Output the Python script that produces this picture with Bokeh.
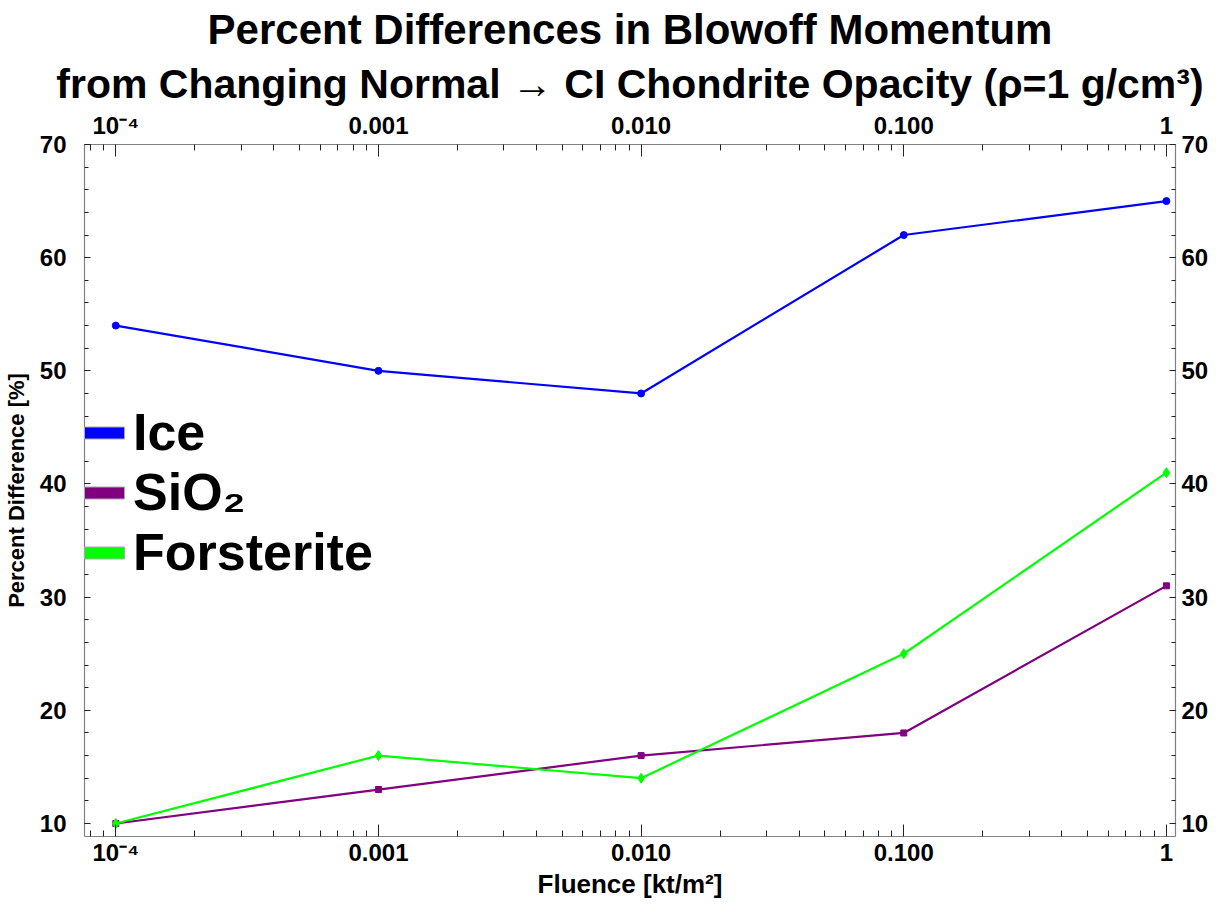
from bokeh.plotting import figure
from bokeh.models import (LogAxis, LinearAxis, FixedTicker, CustomJSTickFormatter,
                          Title, Legend, LegendItem, Range1d)
from bokeh.embed import file_html
from bokeh.resources import INLINE

# ---------------- data ----------------
fluence = [1e-4, 1e-3, 1e-2, 1e-1, 1.0]
ice = [54, 50, 48, 62, 65]
sio2 = [10, 13, 16, 18, 31]
forsterite = [10, 16, 14, 25, 41]

series_names = ["Ice", "SiO₂", "Forsterite"]
series_values = [ice, sio2, forsterite]
series_colors = ["#0000FF", "#800080", "#00FF00"]
series_markers = ["circle", "square", "diamond"]

x_ticks = [1e-4, 1e-3, 1e-2, 1e-1, 1.0]
x_tick_labels = ["10⁻⁴", "0.001", "0.010", "0.100", "1"]
y_ticks = [10, 20, 30, 40, 50, 60, 70]

title_line1 = "Percent Differences in Blowoff Momentum"
title_line2 = "from Changing Normal → CI Chondrite Opacity (ρ=1 g/cm³)"
x_label = "Fluence [kt/m²]"
y_label = "Percent Difference [%]"

# ---------------- styling ----------------
BOLD = "'Liberation Sans', Arial, sans-serif"

x_minor = [m * 10.0 ** d for d in range(-5, 1) for m in range(2, 10)]
y_minor = list(range(8, 72, 2))

p = figure(width=1215, height=901, x_axis_type="log", output_backend="svg",
           toolbar_location=None, title=None,
           x_range=Range1d(7.6e-5, 1.083), y_range=Range1d(8.85, 70),
           min_border_left=84, min_border_right=40,
           min_border_top=139, min_border_bottom=60)
p.grid.visible = False
p.outline_line_color = None
p.background_fill_color = "white"
p.border_fill_color = "white"

xfmt = CustomJSTickFormatter(args=dict(vals=x_ticks, labs=x_tick_labels), code="""
const i = vals.findIndex(v => Math.abs(Math.log10(v) - Math.log10(tick)) < 1e-6);
return i >= 0 ? labs[i] : "";
""")


def style(ax, standoff, maj, mnr):
    ax.axis_line_color = "#808080"
    ax.axis_line_width = 1.2
    ax.major_tick_line_color = "#222222"
    ax.minor_tick_line_color = "#222222"
    ax.major_tick_in = maj
    ax.major_tick_out = 0
    ax.minor_tick_in = mnr
    ax.minor_tick_out = 0
    ax.major_label_text_font = BOLD
    ax.major_label_text_font_size = "24px"
    ax.major_label_text_font_style = "bold"
    ax.major_label_text_color = "black"
    ax.major_label_standoff = standoff


bottom = p.xaxis[0]
bottom.ticker = FixedTicker(ticks=x_ticks, minor_ticks=x_minor)
bottom.formatter = xfmt
style(bottom, 2, 12, 6)
bottom.axis_label = x_label
bottom.axis_label_text_font = BOLD
bottom.axis_label_text_font_size = "26px"
bottom.axis_label_text_font_style = "bold"
bottom.axis_label_text_color = "black"
bottom.axis_label_standoff = 0

left = p.yaxis[0]
left.ticker = FixedTicker(ticks=y_ticks, minor_ticks=y_minor)
style(left, 18, 6, 4)
left.axis_label = y_label
left.axis_label_text_font = BOLD
left.axis_label_text_font_size = "22px"
left.axis_label_text_font_style = "bold"
left.axis_label_text_color = "black"
left.axis_label_standoff = 8

top = LogAxis(ticker=FixedTicker(ticks=x_ticks, minor_ticks=x_minor), formatter=xfmt)
style(top, 6, 12, 6)
p.add_layout(top, "above")

right = LinearAxis(ticker=FixedTicker(ticks=y_ticks, minor_ticks=y_minor))
style(right, 6, 6, 4)
p.add_layout(right, "right")

t2 = Title(text=title_line2, align="center", text_font=BOLD, text_font_size="41px",
           text_font_style="bold", text_color="black", standoff=4)
p.add_layout(t2, "above")
t1 = Title(text=title_line1, align="center", text_font=BOLD, text_font_size="42px",
           text_font_style="bold", text_color="black", standoff=7)
p.add_layout(t1, "above")

# ---------------- series ----------------
sizes = {"circle": 7, "square": 6, "diamond": 10}
for vals, color, marker in zip(series_values, series_colors, series_markers):
    p.line(fluence, vals, line_color=color, line_width=2.2)
    p.scatter(fluence, vals, marker=marker, size=sizes[marker],
              fill_color=color, line_color=color)

# ---------------- legend ----------------
items = []
for name, color in zip(series_names, series_colors):
    r = p.quad(left=[float("nan")], right=[float("nan")], top=[float("nan")],
               bottom=[float("nan")], fill_color=color, line_color="#aaaaaa")
    items.append(LegendItem(label=name, renderers=[r]))
leg = Legend(items=items, location=(-5, 254), glyph_width=50, glyph_height=15,
             label_text_font=BOLD, label_text_font_size="52px", label_text_font_style="bold",
             label_text_color="black", spacing=0,
             padding=0, margin=0, border_line_color=None, background_fill_alpha=0,
             label_standoff=4)
p.add_layout(leg, "center")

open("out.html", "w").write(file_html(p, INLINE))
